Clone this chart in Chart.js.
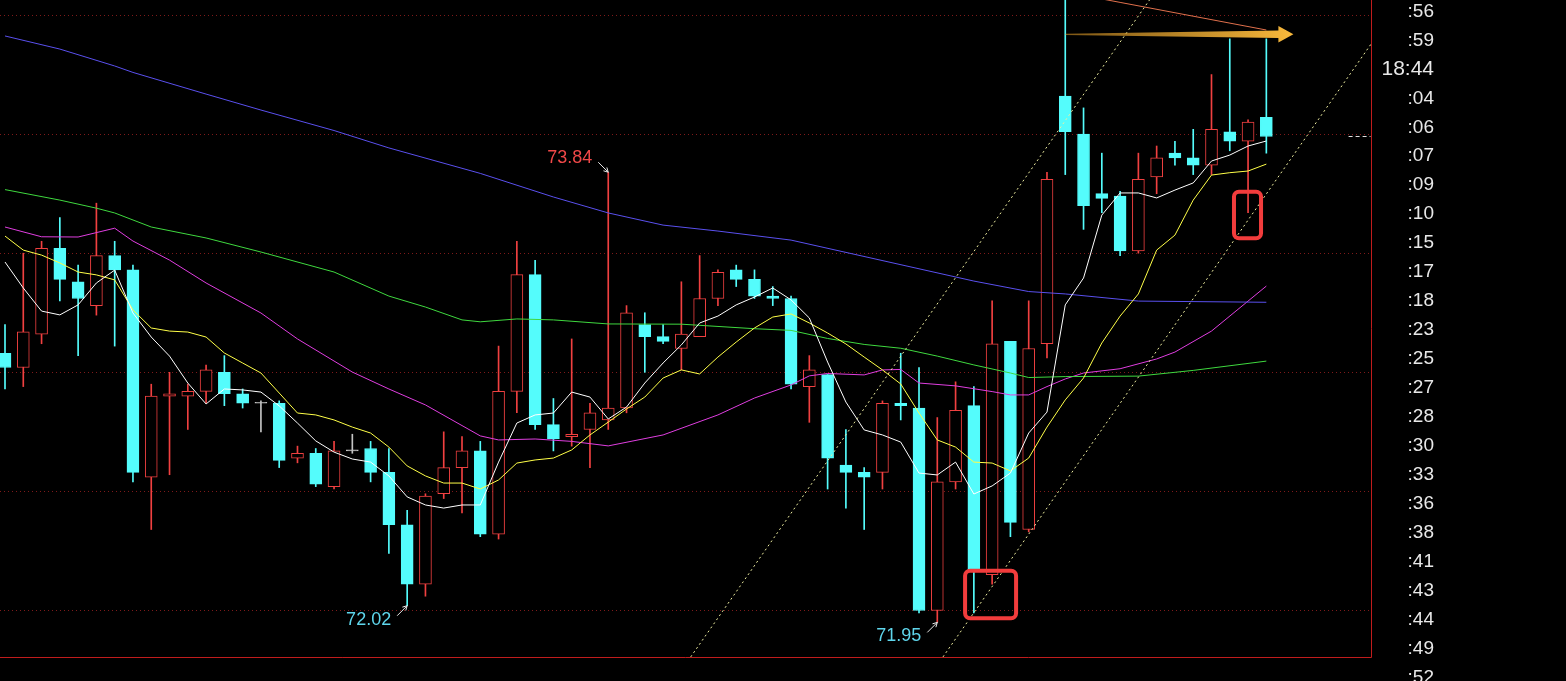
<!doctype html>
<html>
<head>
<meta charset="utf-8">
<title>K线图</title>
<script src="https://cdn.jsdelivr.net/npm/chart.js@4.4.1/dist/chart.umd.min.js"></script>
<style>
  html, body { margin: 0; padding: 0; background: #000; }
  #wrap { width: 1566px; height: 681px; position: relative; }
</style>
</head>
<body>
<div id="wrap"><canvas id="canvas"></canvas></div>
<script>
// candles, left to right
var opens  = [73.08,73.02,73.16,73.52,73.38,73.28,73.49,73.43,72.56,72.90, 72.90,72.92,73.00,72.91,72.87,72.87,72.64,72.66,72.52,72.67,
              72.68,72.58,72.36,72.11,72.49,72.60,72.67,72.32,72.92,73.41, 72.78,72.73,72.76,72.80,72.85,73.20,73.15,73.10,73.15,73.31,
              73.43,73.39,73.32,73.31,72.94,72.99,72.61,72.58,72.58,72.87, 72.85,72.00,72.54,72.86,72.15,73.13,72.34,73.12,74.16,74.00,
              73.75,73.74,73.51,73.82,73.92,73.90,73.87,74.01,73.97,74.07];
var highs  = [73.20,73.50,73.55,73.65,73.45,73.71,73.55,73.45,72.95,73.00, 72.95,73.03,73.07,72.93,72.88,72.88,72.69,72.68,72.71,72.74,
              72.71,72.68,72.42,72.49,72.75,72.73,72.71,73.11,73.55,73.47, 72.89,73.14,72.87,73.84,73.28,73.25,73.20,73.38,73.49,73.43,
              73.45,73.43,73.36,73.32,73.07,72.99,72.76,72.60,72.88,73.08, 73.02,72.81,72.96,72.94,73.30,73.13,73.30,73.84,74.65,74.11,
              73.92,73.76,73.92,73.95,73.97,74.02,74.25,74.40,74.06,74.40];
var lows   = [72.93,72.94,73.12,73.30,73.07,73.24,73.11,72.54,72.34,72.57, 72.76,72.87,72.86,72.85,72.75,72.60,72.62,72.52,72.51,72.66,
              72.54,72.24,72.02,72.06,72.47,72.41,72.31,72.30,72.83,72.76, 72.67,72.69,72.60,72.76,72.83,73.00,73.12,73.01,73.15,73.28,
              73.36,73.31,73.28,72.93,72.79,72.51,72.43,72.34,72.51,72.80, 71.99,71.95,72.51,71.99,72.11,72.31,72.33,73.06,73.83,73.60,
              73.67,73.49,73.50,73.75,73.87,73.83,73.83,73.93,73.67,73.92];
var closes = [73.02,73.17,73.52,73.39,73.31,73.49,73.43,72.58,72.90,72.91, 72.92,73.01,72.91,72.87,72.87,72.63,72.66,72.53,72.67,72.67,
              72.58,72.36,72.11,72.48,72.60,72.67,72.32,72.92,73.41,72.78, 72.72,72.74,72.83,72.85,73.25,73.15,73.13,73.16,73.31,73.42,
              73.39,73.32,73.31,72.95,73.01,72.64,72.58,72.56,72.87,72.86, 72.00,72.54,72.84,72.17,73.12,72.37,73.10,73.81,74.01,73.70,
              73.73,73.51,73.81,73.90,73.90,73.87,74.02,73.97,74.05,73.99];

// moving averages
var maWhite  = [73.463,73.354,73.257,73.241,73.283,73.375,73.429,73.249,73.148,73.068, 72.955,72.867,72.930,72.926,72.917,72.859,72.787,72.712,72.665,72.636,
                72.623,72.565,72.477,72.443,72.430,72.443,72.443,72.623,72.787,72.821, 72.829,72.917,72.896,72.804,72.854,72.955,73.039,73.115,73.207,73.236,
                73.283,73.316,73.354,73.304,73.228,73.043,72.875,72.758,72.737,72.707, 72.577,72.569,72.623,72.489,72.523,72.577,72.745,72.833,73.283,73.396,
                73.660,73.753,73.753,73.732,73.765,73.795,73.887,73.912,73.950,73.971];
var maYellow = [73.572,73.513,73.492,73.459,73.421,73.409,73.388,73.262,73.186,73.173, 73.169,73.148,73.081,73.039,72.997,72.913,72.829,72.821,72.800,72.770,
                72.745,72.686,72.607,72.565,72.535,72.535,72.510,72.548,72.619,72.632, 72.640,72.674,72.737,72.791,72.846,72.896,72.976,73.010,72.993,73.064,
                73.127,73.186,73.232,73.245,73.207,73.165,73.119,73.064,73.010,72.951, 72.829,72.716,72.686,72.623,72.619,72.586,72.640,72.770,72.884,72.976,
                73.123,73.236,73.329,73.513,73.576,73.723,73.828,73.838,73.845,73.874];
var maMagentaIdx = [0,2,4,6,7,9,11,14,16,19,21,23,26,27,29,31,33,36,39,41,43,44,45,47,48,49,50,52,54,55,56,57,58,59,61,63,64,66,68,69];
var maMagenta    = [73.610,73.569,73.568,73.605,73.551,73.471,73.375,73.249,73.140,73.001,72.930,72.863,72.733,72.716,72.720,72.710,72.691,72.737,72.821,72.892,
                    72.947,72.985,72.995,72.989,73.010,73.012,72.955,72.943,72.919,72.905,72.905,72.940,72.972,72.997,73.015,73.056,73.085,73.173,73.299,73.362];
var maGreenIdx = [0,3,5,6,8,11,14,18,21,23,25,26,28,30,33,37,41,43,45,47,49,51,53,55,56,58,62,65,69];
var maGreen    = [73.767,73.723,73.689,73.669,73.610,73.564,73.505,73.421,73.320,73.274,73.220,73.212,73.224,73.220,73.203,73.202,73.183,73.176,73.142,73.117,
                  73.101,73.068,73.031,72.997,72.978,72.982,72.984,73.008,73.047];
var maBlueIdx = [0,3,6,7,11,14,18,21,26,30,33,36,39,43,53,56,58,62,69];
var maBlue    = [74.412,74.357,74.286,74.259,74.168,74.101,74.015,73.942,73.835,73.736,73.669,73.618,73.593,73.555,73.383,73.339,73.329,73.299,73.294];
var maOrangeIdx = [55,61,69];
var maOrange    = [74.640,74.553,74.437];

// drawn channel lines, [index, price] at each end
var trendA = [[37.51, 71.805], [63.0, 74.606]];
var trendB = [[51.31, 71.805], [75.5, 74.463]];

// right hand column and grid
var timeLabels = [':56', ':59', '18:44', ':04', ':06', ':07', ':09', ':10', ':15', ':17', ':18', ':23',
                  ':25', ':27', ':28', ':30', ':33', ':36', ':38', ':41', ':43', ':44', ':49', ':52'];
var gridPrices = [72.0, 72.5, 73.0, 73.5, 74.0, 74.5];
var framePrice = 71.805;

// marks written on the chart
var priceNotes = [
  { idx: 33, price: 73.84, text: '73.84', up: true },
  { idx: 22, price: 72.02, text: '72.02', up: false },
  { idx: 51, price: 71.95, text: '71.95', up: false }
];
var boxes = [[52.52, 55.31, 72.167, 71.967], [67.23, 68.71, 73.758, 73.563]];
var arrowFrom = 58, arrowTo = 70.48, arrowPrice = 74.419;

var RED = '#f04040', CYAN = '#54fcfc', GRAY = '#c4c4c4';

function candleColor(i) {
  if (closes[i] > opens[i]) return RED;
  if (closes[i] < opens[i]) return CYAN;
  return GRAY;
}

var wickData = [], bodyData = [], wickColors = [], bodyFill = [], bodyLine = [];
for (var i = 0; i < opens.length; i++) {
  wickData.push({ x: i, y: [lows[i], highs[i]] });
  bodyData.push({ x: i, y: [opens[i], closes[i]] });
  var c = candleColor(i);
  wickColors.push(c);
  bodyLine.push(c);
  bodyFill.push(c === RED ? '#000000' : c);
}

function perCandle(arr) {
  return arr.map(function (v, i) { return { x: i, y: v }; });
}
function sparse(idx, arr) {
  return idx.map(function (x, i) { return { x: x, y: arr[i] }; });
}
function seg(pts) {
  return pts.map(function (p) { return { x: p[0], y: p[1] }; });
}

function lineSet(data, color, order, dash) {
  return {
    type: 'line', data: data, borderColor: color, borderWidth: 1,
    pointRadius: 0, tension: 0, fill: false, order: order, borderDash: dash || []
  };
}

var overlay = {
  id: 'overlay',
  afterDraw: function (chart) {
    var ctx = chart.ctx, xs = chart.scales.x, ys = chart.scales.y, area = chart.chartArea;
    ctx.save();

    // frame: bottom and right edge
    var yb = Math.round(ys.getPixelForValue(framePrice)) + 0.5;
    var xr = Math.round(area.right) - 0.5;
    ctx.strokeStyle = '#c01c1c';
    ctx.lineWidth = 1;
    ctx.beginPath();
    ctx.moveTo(area.left, yb); ctx.lineTo(xr, yb);
    ctx.moveTo(xr, 0); ctx.lineTo(xr, yb);
    ctx.stroke();

    // last price marker at the right edge
    var yl = Math.round(ys.getPixelForValue(closes[closes.length - 1])) + 0.5;
    ctx.strokeStyle = '#e0e0e0';
    ctx.setLineDash([4, 3]);
    ctx.beginPath();
    ctx.moveTo(xs.getPixelForValue(73.5), yl); ctx.lineTo(xr - 1, yl);
    ctx.stroke();
    ctx.setLineDash([]);

    // red boxes
    ctx.strokeStyle = '#f23c3c';
    ctx.lineWidth = 4;
    boxes.forEach(function (b) {
      var x0 = xs.getPixelForValue(b[0]), x1 = xs.getPixelForValue(b[1]);
      var y0 = ys.getPixelForValue(b[2]), y1 = ys.getPixelForValue(b[3]);
      ctx.beginPath();
      ctx.roundRect(x0, y0, x1 - x0, y1 - y0, 5);
      ctx.stroke();
    });

    // orange arrow
    var ax0 = xs.getPixelForValue(arrowFrom), ax1 = xs.getPixelForValue(arrowTo);
    var ay = ys.getPixelForValue(arrowPrice);
    var g = ctx.createLinearGradient(ax0, 0, ax1, 0);
    g.addColorStop(0, 'rgba(230,160,40,0.55)');
    g.addColorStop(1, '#f9b93c');
    ctx.fillStyle = g;
    ctx.beginPath();
    ctx.moveTo(ax0, ay - 0.6);
    ctx.lineTo(ax1 - 15, ay - 3.8);
    ctx.lineTo(ax1 - 15, ay - 8.3);
    ctx.lineTo(ax1, ay);
    ctx.lineTo(ax1 - 15, ay + 8.3);
    ctx.lineTo(ax1 - 15, ay + 3.8);
    ctx.lineTo(ax0, ay + 0.6);
    ctx.closePath();
    ctx.fill();

    // high / low notes
    ctx.font = '18px "Liberation Sans", Arial, sans-serif';
    ctx.textAlign = 'right';
    ctx.textBaseline = 'middle';
    priceNotes.forEach(function (n) {
      var px = xs.getPixelForValue(n.idx), py = ys.getPixelForValue(n.price);
      var d = n.up ? -1 : 1;
      ctx.fillStyle = n.up ? '#f04848' : '#5fd6ec';
      ctx.fillText(n.text, px - 16, py + d * 14);
      var sx = px - 10, sy = py + d * 10;
      ctx.strokeStyle = '#e8e8e8';
      ctx.lineWidth = 1;
      ctx.beginPath();
      ctx.moveTo(sx, sy); ctx.lineTo(px, py);
      var ang = Math.atan2(py - sy, px - sx);
      ctx.moveTo(px - 5 * Math.cos(ang - 0.5), py - 5 * Math.sin(ang - 0.5));
      ctx.lineTo(px, py);
      ctx.lineTo(px - 5 * Math.cos(ang + 0.5), py - 5 * Math.sin(ang + 0.5));
      ctx.stroke();
    });

    ctx.restore();
  }
};

window.onload = function () {
  var ctx = document.getElementById('canvas').getContext('2d');
  window.kChart = new Chart(ctx, {
    type: 'bar',
    data: {
      datasets: [
        { type: 'bar', data: wickData, backgroundColor: wickColors, borderWidth: 0,
          barThickness: 1, grouped: false, order: 6 },
        { type: 'bar', data: bodyData, backgroundColor: bodyFill, borderColor: bodyLine, borderWidth: 1,
          borderSkipped: false, barThickness: 12, minBarLength: 1, grouped: false, order: 5 },
        lineSet(sparse(maBlueIdx, maBlue), '#5a50ee', 4),
        lineSet(sparse(maGreenIdx, maGreen), '#3fd83f', 4),
        lineSet(sparse(maMagentaIdx, maMagenta), '#e03ee0', 4),
        lineSet(sparse(maOrangeIdx, maOrange), '#e0704c', 4),
        lineSet(perCandle(maYellow), '#ffff48', 3),
        lineSet(perCandle(maWhite), '#ffffff', 2),
        lineSet(seg(trendA), '#eeeea0', 1, [2, 3]),
        lineSet(seg(trendB), '#eeeea0', 1, [2, 3])
      ]
    },
    options: {
      responsive: true,
      maintainAspectRatio: false,
      animation: false,
      layout: { padding: { left: 0, top: 0, bottom: 0, right: 132 } },
      plugins: { legend: { display: false }, tooltip: { enabled: false } },
      scales: {
        x: {
          type: 'linear', display: false, offset: false,
          min: -0.2735, max: 74.78
        },
        y: {
          type: 'linear', position: 'left', min: 71.704, max: 74.563,
          ticks: { display: false },
          afterBuildTicks: function (s) { s.ticks = gridPrices.map(function (v) { return { value: v }; }); },
          grid: { color: '#7e1a1a', lineWidth: 1, drawTicks: false },
          border: { display: false, dash: [1, 3] }
        },
        yT: {
          type: 'linear', position: 'right', reverse: true,
          min: -0.3972, max: 23.126,
          afterBuildTicks: function (s) { s.ticks = timeLabels.map(function (t, i) { return { value: i }; }); },
          afterFit: function (s) { s.width = 62; s.paddingTop = 0; s.paddingBottom = 0; },
          grid: { display: false, drawTicks: false },
          border: { display: false },
          ticks: {
            autoSkip: false, padding: 10, crossAlign: 'far', color: '#e8e8e8',
            font: function (c) {
              var big = c.tick && timeLabels[c.tick.value] === '18:44';
              return { size: big ? 21 : 19, family: '"Liberation Sans", Arial, sans-serif' };
            },
            callback: function (v, i) { return timeLabels[i]; }
          }
        }
      }
    },
    plugins: [overlay]
  });
};
</script>
</body>
</html>
